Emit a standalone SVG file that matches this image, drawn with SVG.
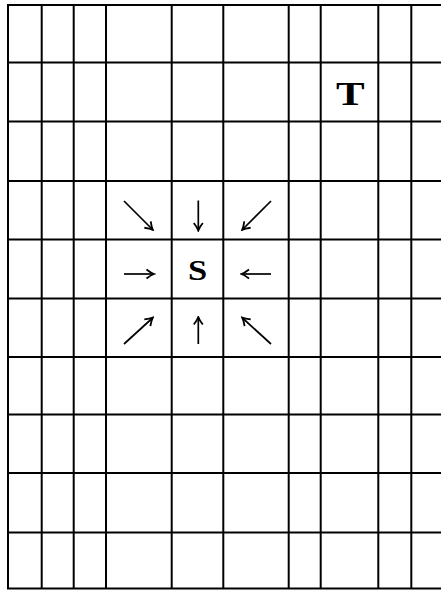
<svg xmlns="http://www.w3.org/2000/svg" width="441" height="591" viewBox="0 0 441 591">
<style>
.g line{stroke:#000;stroke-width:2}
.a line{stroke:#000;stroke-width:1.7;marker-end:url(#ah)}
.lbl{font-family:"Liberation Serif","DejaVu Serif",serif;font-weight:bold;fill:#000;text-anchor:middle}
</style>
<defs>
<marker id="ah" markerUnits="userSpaceOnUse" viewBox="-10 -6 12 12" markerWidth="12" markerHeight="12" refX="0" refY="0" orient="auto">
<path d="M-7,-4.5 Q-2.5,-1 0.5,0 Q-2.5,1 -7,4.5" fill="none" stroke="#000" stroke-width="1.8"/>
</marker>
</defs>
<rect width="441" height="591" fill="#fff"/>
<g id="grid" class="g">
<line x1="8" y1="5" x2="8" y2="589"/>
<line x1="41.7" y1="5" x2="41.7" y2="589"/>
<line x1="73.7" y1="5" x2="73.7" y2="589"/>
<line x1="106" y1="5" x2="106" y2="589"/>
<line x1="171.7" y1="5" x2="171.7" y2="589"/>
<line x1="223.3" y1="5" x2="223.3" y2="589"/>
<line x1="288.7" y1="5" x2="288.7" y2="589"/>
<line x1="320.7" y1="5" x2="320.7" y2="589"/>
<line x1="378.3" y1="5" x2="378.3" y2="589"/>
<line x1="411.3" y1="5" x2="411.3" y2="589"/>
<line x1="7" y1="5" x2="441" y2="5"/>
<line x1="7" y1="62.5" x2="441" y2="62.5"/>
<line x1="7" y1="121.5" x2="441" y2="121.5"/>
<line x1="7" y1="181" x2="441" y2="181"/>
<line x1="7" y1="239.5" x2="441" y2="239.5"/>
<line x1="7" y1="298.5" x2="441" y2="298.5"/>
<line x1="7" y1="357" x2="441" y2="357"/>
<line x1="7" y1="414.5" x2="441" y2="414.5"/>
<line x1="7" y1="473" x2="441" y2="473"/>
<line x1="7" y1="532.5" x2="441" y2="532.5"/>
<line x1="7" y1="588.5" x2="441" y2="588.5"/>
</g>
<g id="node-S"><text class="lbl" x="0" y="280.5" font-size="30" transform="translate(197.7 0) scale(1.15 1)">S</text></g>
<g id="node-T"><text class="lbl" x="0" y="105" font-size="33" transform="translate(350.3 0) scale(1.3 1)">T</text></g>
<g id="connectors" class="a">
<line x1="124" y1="201" x2="152.5" y2="229.5"/>
<line x1="198.3" y1="200.5" x2="198.3" y2="230"/>
<line x1="271" y1="201" x2="242.5" y2="229.5"/>
<line x1="124" y1="274" x2="153.5" y2="274"/>
<line x1="271" y1="274" x2="242" y2="274"/>
<line x1="124" y1="344" x2="152.5" y2="318"/>
<line x1="198.3" y1="344" x2="198.3" y2="317.5"/>
<line x1="271" y1="344" x2="242.5" y2="318"/>
</g>
</svg>
